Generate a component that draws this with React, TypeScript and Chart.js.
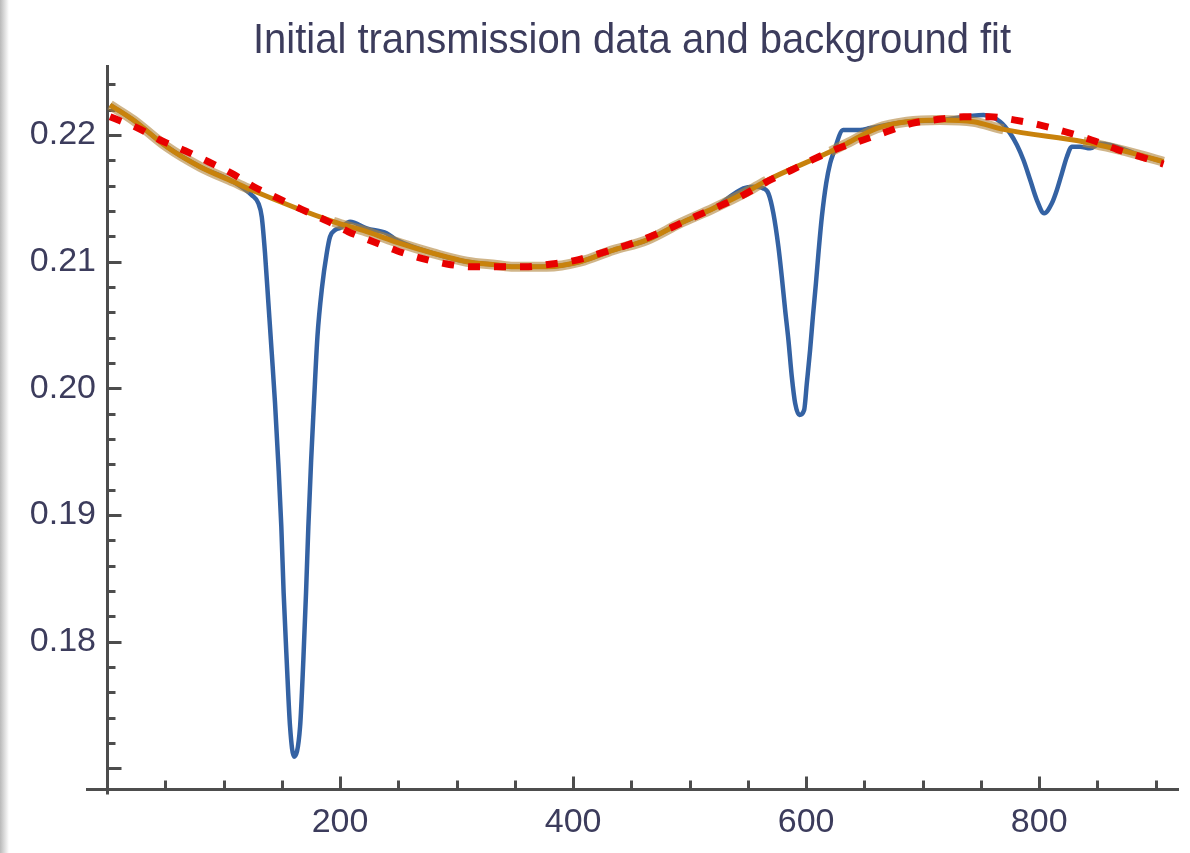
import React, { useEffect, useRef } from 'react';
import { Chart, registerables } from 'chart.js';

Chart.register(...registerables);

const TITLE = 'Initial transmission data and background fit';

// Background fit (red dashed)
const fitX = [2.6, 26.9, 45.5, 67, 87, 107, 126, 147, 167, 188.6, 207, 228.6, 248.7, 270, 291.6, 314, 334.5, 358.8, 381.7, 403, 423, 444.6, 466, 486, 507.5, 527.6, 546, 566, 587.7, 606, 627.7, 649, 669, 690.7, 713.6, 735, 758, 779.4, 801, 822.3, 845, 866.7, 886.7, 906.7];
const fitY = [0.22144, 0.22053, 0.21961, 0.21876, 0.21789, 0.21698, 0.21592, 0.215, 0.21413, 0.21323, 0.21237, 0.21158, 0.21087, 0.21027, 0.20982, 0.2096, 0.2096, 0.2096, 0.20982, 0.21013, 0.21066, 0.21126, 0.21197, 0.21276, 0.21368, 0.21447, 0.21526, 0.2163, 0.21724, 0.21808, 0.21895, 0.21961, 0.22026, 0.22092, 0.22124, 0.22144, 0.22144, 0.22118, 0.22079, 0.22026, 0.21961, 0.21887, 0.21829, 0.21771];

// Background data with absorption lines removed (orange)
const bgX = [2.6, 22.6, 51.2, 79.8, 108.4, 123, 194.2, 222.9, 251.5, 280.1, 308.8, 334.5, 348.8, 377.4, 406, 434.6, 463.3, 491.8, 520.4, 549.1, 566, 621, 634.9, 660.7, 686.4, 715, 743.6, 769.4, 838, 858, 886.7, 906.7];
const bgY = [0.22237, 0.22118, 0.21908, 0.2175, 0.21631, 0.2157, 0.21316, 0.21237, 0.21145, 0.21066, 0.21, 0.20974, 0.2096, 0.2096, 0.21, 0.21092, 0.21171, 0.21303, 0.21421, 0.21552, 0.2164, 0.2187, 0.21934, 0.22053, 0.22105, 0.22118, 0.22105, 0.22045, 0.21947, 0.21908, 0.21842, 0.21789];
// spans of the orange series that are bridged (no noise there)
const bridgedSpans = [[123, 194.2], [566, 621], [769.4, 838]];

// Initial transmission data (blue)
const dataX = [2.6, 22.6, 51.2, 79.8, 108.4, 124.2, 129.9, 132.8, 135.6, 138.5, 141.4, 144.2, 147, 149.6, 151.6, 154.2, 157.1, 160.5, 165.7, 168.5, 170.8, 172.8, 175.2, 177.6, 180.6, 184.6, 188.6, 191.4, 195.7, 200, 208.6, 222.9, 240, 248.7, 280.1, 308.8, 334.5, 348.8, 377.4, 406, 434.6, 463.3, 491.8, 520.4, 546.2, 554.8, 563.3, 567.6, 571.9, 576.2, 579.1, 582, 584.8, 587.7, 590.6, 594.2, 598.3, 600.6, 603.4, 605.8, 608.4, 610.8, 613.5, 617.2, 620.6, 623.4, 631.8, 646.4, 655, 686.4, 715, 752.2, 766.5, 775.1, 780.9, 786.5, 792.3, 798, 804.3, 810.9, 815.2, 819.5, 823.8, 828.1, 835.2, 843.8, 852.4, 886.7, 906.7];
const dataY = [0.22237, 0.22118, 0.21908, 0.2175, 0.21631, 0.21526, 0.21461, 0.21355, 0.21068, 0.20674, 0.20279, 0.19884, 0.19411, 0.18908, 0.18384, 0.17855, 0.17329, 0.17092, 0.17329, 0.17855, 0.18384, 0.18908, 0.19434, 0.19884, 0.20408, 0.20802, 0.21068, 0.21197, 0.2125, 0.21266, 0.21316, 0.21263, 0.21224, 0.21171, 0.21066, 0.21, 0.20974, 0.2096, 0.2096, 0.21, 0.21092, 0.21171, 0.21303, 0.21421, 0.21579, 0.21592, 0.21579, 0.2154, 0.21382, 0.21118, 0.20881, 0.20618, 0.20382, 0.20092, 0.19882, 0.1979, 0.19829, 0.2004, 0.20303, 0.20566, 0.20829, 0.21092, 0.21355, 0.21619, 0.21777, 0.21856, 0.22039, 0.22039, 0.22055, 0.22105, 0.22118, 0.22158, 0.22105, 0.22013, 0.21921, 0.21803, 0.21645, 0.21487, 0.21382, 0.21461, 0.21566, 0.21698, 0.21829, 0.21908, 0.21908, 0.21895, 0.21934, 0.21842, 0.21789];

// Axes
const xRange = [0, 920];
const yRange = [0.16837, 0.22553];
const xLabelTicks = [200, 400, 600, 800];
const xMajorTicks = [200, 400, 600, 800];
const xMinorTicks = [50, 100, 150, 250, 300, 350, 450, 500, 550, 650, 700, 750, 850, 900];
const yLabelTicks = [0.18, 0.19, 0.2, 0.21, 0.22];
const yMajorTicks = [0.17, 0.18, 0.19, 0.2, 0.21, 0.22];
const yMinorTicks = [0.172, 0.174, 0.176, 0.178, 0.182, 0.184, 0.186, 0.188, 0.192, 0.194, 0.196, 0.198, 0.202, 0.204, 0.206, 0.208, 0.212, 0.214, 0.216, 0.218, 0.222, 0.224];

const pts = (xs: number[], ys: number[]) => xs.map((x, i) => ({ x, y: ys[i] }));

const AXIS_COLOR = '#4d4d4d';
const TEXT_COLOR = '#3c3c5c';
const FONT_FAMILY = '"Liberation Sans", Arial, "DejaVu Sans", sans-serif';

const isBridged = (a: number, b: number) =>
  bridgedSpans.some(([s, e]) => Math.abs(a - s) < 0.01 && Math.abs(b - e) < 0.01);

const mmaAxes = {
  id: 'mmaAxes',
  beforeDatasetsDraw(chart: any) {
    const { ctx, chartArea, scales } = chart;
    const { left, right, top, bottom } = chartArea;
    const xs = scales.x;
    const ys = scales.y;
    const L = Math.round(left) + 0.5;
    const B = Math.round(bottom) + 0.5;
    ctx.save();
    ctx.strokeStyle = AXIS_COLOR;
    ctx.lineCap = 'butt';
    ctx.lineWidth = 3;
    ctx.beginPath();
    ctx.moveTo(L, top);
    ctx.lineTo(L, B + 5);
    ctx.moveTo(left - 21, B);
    ctx.lineTo(right, B);
    ctx.stroke();
    ctx.beginPath();
    for (const v of yMajorTicks) {
      const p = Math.round(ys.getPixelForValue(v)) + 0.5;
      ctx.moveTo(L, p);
      ctx.lineTo(L + 14, p);
    }
    for (const v of yMinorTicks) {
      const p = Math.round(ys.getPixelForValue(v)) + 0.5;
      ctx.moveTo(L, p);
      ctx.lineTo(L + 8, p);
    }
    for (const v of xMajorTicks) {
      const p = Math.round(xs.getPixelForValue(v)) + 0.5;
      ctx.moveTo(p, B);
      ctx.lineTo(p, B - 13);
    }
    for (const v of xMinorTicks) {
      const p = Math.round(xs.getPixelForValue(v)) + 0.5;
      ctx.moveTo(p, B);
      ctx.lineTo(p, B - 9);
    }
    ctx.stroke();
    ctx.restore();
  },
  afterDraw(chart: any) {
    const { ctx } = chart;
    ctx.save();
    ctx.font = `40px ${FONT_FAMILY}`;
    ctx.fillStyle = TEXT_COLOR;
    ctx.textAlign = 'center';
    ctx.textBaseline = 'alphabetic';
    ctx.translate(632, 53);
    ctx.scale(1, 1.08);
    ctx.fillText(TITLE, 0, 0);
    ctx.restore();
  },
};

export default function App() {
  const ref = useRef<HTMLCanvasElement | null>(null);

  useEffect(() => {
    const canvas = ref.current;
    if (!canvas) return;
    const chart = new Chart(canvas, {
      type: 'line',
      data: {
        datasets: [
          {
            label: 'Background fit',
            data: pts(fitX, fitY),
            borderColor: 'rgb(232, 0, 0)',
            borderWidth: 7,
            borderDash: [12, 14],
            borderCapStyle: 'butt',
            pointRadius: 0,
            cubicInterpolationMode: 'monotone',
            order: 0,
            clip: false,
          },
          {
            label: 'Background data',
            data: pts(bgX, bgY),
            borderColor: '#c8820c',
            borderWidth: 5,
            pointRadius: 0,
            cubicInterpolationMode: 'monotone',
            borderJoinStyle: 'round',
            order: 1,
            clip: false,
          },
          {
            label: 'Background noise',
            data: pts(bgX, bgY),
            borderColor: 'rgba(176, 132, 58, 0.6)',
            borderWidth: 10,
            pointRadius: 0,
            cubicInterpolationMode: 'monotone',
            segment: {
              borderColor: (c: any) =>
                isBridged(c.p0.parsed.x, c.p1.parsed.x) ? 'rgba(0,0,0,0)' : undefined,
            },
            order: 2,
            clip: false,
          },
          {
            label: 'Transmission data',
            data: pts(dataX, dataY),
            borderColor: '#3462a3',
            borderWidth: 4.5,
            pointRadius: 0,
            cubicInterpolationMode: 'monotone',
            borderJoinStyle: 'round',
            order: 3,
            clip: false,
          },
        ],
      } as any,
      options: {
        animation: false,
        responsive: false,
        devicePixelRatio: 1,
        layout: { padding: { top: 65, right: 11, left: 0, bottom: 0 } },
        plugins: {
          legend: { display: false },
          title: { display: false },
          tooltip: { enabled: false },
        },
        scales: {
          x: {
            type: 'linear',
            min: xRange[0],
            max: xRange[1],
            grid: { display: false, drawTicks: false },
            border: { display: false },
            afterBuildTicks: (s: any) => {
              s.ticks = xLabelTicks.map((v) => ({ value: v }));
            },
            afterFit: (s: any) => {
              s.height = 64;
              s.paddingLeft = 0;
              s.paddingRight = 0;
            },
            ticks: {
              autoSkip: false,
              maxRotation: 0,
              padding: 13,
              color: TEXT_COLOR,
              font: { family: FONT_FAMILY, size: 34 },
              callback: (v: any) => String(v),
            },
          },
          y: {
            type: 'linear',
            min: yRange[0],
            max: yRange[1],
            grid: { display: false, drawTicks: false },
            border: { display: false },
            afterBuildTicks: (s: any) => {
              s.ticks = yLabelTicks.map((v) => ({ value: v }));
            },
            afterFit: (s: any) => {
              s.width = 107;
              s.paddingTop = 0;
              s.paddingBottom = 0;
            },
            ticks: {
              autoSkip: false,
              padding: 11,
              color: TEXT_COLOR,
              font: { family: FONT_FAMILY, size: 34 },
              callback: (v: any) => Number(v).toFixed(2),
            },
          },
        },
      } as any,
      plugins: [mmaAxes],
    });
    return () => chart.destroy();
  }, []);

  return (
    <div style={{ position: 'fixed', left: 0, top: 0, width: 1190, height: 853, background: '#fff' }}>
      <div
        style={{
          position: 'absolute',
          left: 0,
          top: 0,
          width: 9,
          height: 853,
          background: 'linear-gradient(to right, #b9b9b9, #ffffff)',
        }}
      />
      <canvas ref={ref} width={1190} height={853} style={{ display: 'block', position: 'absolute', left: 0, top: 0 }} />
    </div>
  );
}
